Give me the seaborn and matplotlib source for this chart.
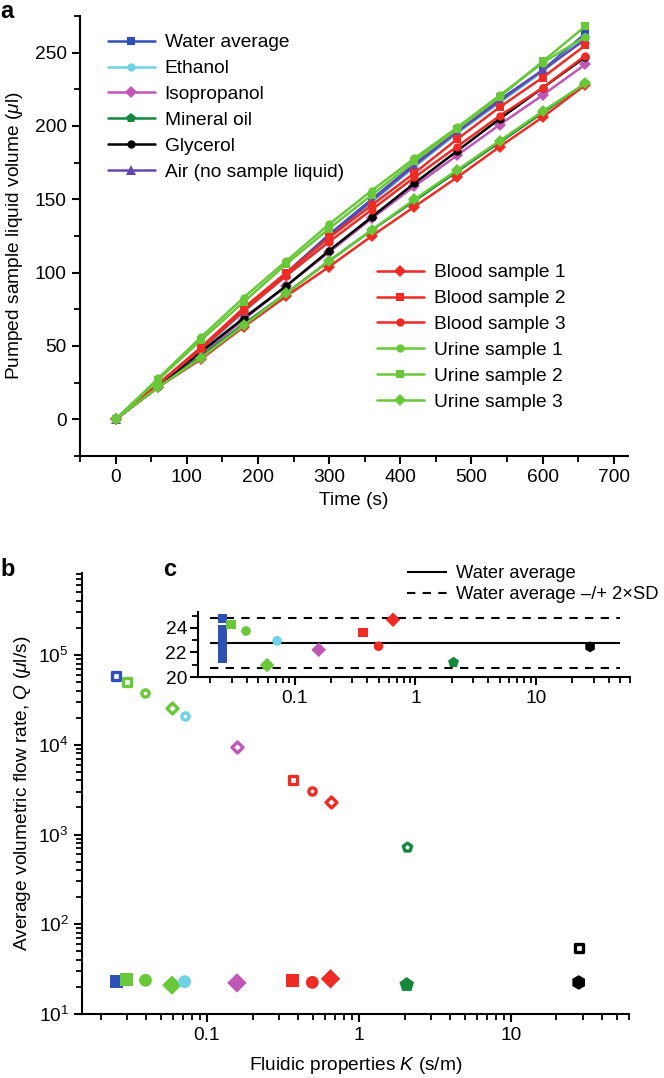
import numpy as np
import pandas as pd
import matplotlib
matplotlib.use("Agg")
import matplotlib.pyplot as plt
import seaborn as sns
from matplotlib.ticker import FixedLocator, NullFormatter, LogLocator

# ---------------- data: panel a ----------------
time_s = [0, 60, 120, 180, 240, 300, 360, 420, 480, 540, 600, 660]
water_avg = [0, 24, 49, 75, 100, 126, 150, 174, 196, 218, 238, 263]
ethanol = [0, 23, 47, 73, 98, 123, 148, 172, 195, 216, 237, 261]
isopropanol = [0, 22, 44, 68, 91, 114, 137, 159, 180, 201, 221, 242]
mineral_oil = [0, 22, 43, 65, 86, 108, 129, 149, 169, 189, 209, 229]
glycerol = [0, 23, 46, 69, 91, 115, 138, 161, 183, 205, 226, 247]
air = [0, 24, 48, 74, 99, 125, 149, 173, 196, 217, 238, 259]
blood1 = [0, 22, 41, 63, 84, 104, 125, 145, 165, 186, 206, 228]
blood2 = [0, 24, 49, 76, 100, 124, 146, 168, 191, 213, 233, 255]
blood3 = [0, 24, 48, 74, 98, 121, 143, 165, 186, 207, 226, 248]
urine1 = [0, 28, 56, 83, 108, 133, 156, 178, 199, 221, 243, 261]
urine2 = [0, 27, 54, 80, 106, 130, 153, 176, 198, 220, 244, 268]
urine3 = [0, 22, 42, 64, 86, 108, 129, 150, 170, 190, 210, 229]

series_names = ["Water average", "Ethanol", "Isopropanol", "Mineral oil", "Glycerol",
                "Air (no sample liquid)", "Blood sample 1", "Blood sample 2", "Blood sample 3",
                "Urine sample 1", "Urine sample 2", "Urine sample 3"]
series_vals = [water_avg, ethanol, isopropanol, mineral_oil, glycerol, air,
               blood1, blood2, blood3, urine1, urine2, urine3]

C_WATER = "#2f50b4"
C_ETH = "#6fd3e6"
C_ISO = "#c056b6"
C_OIL = "#14883c"
C_GLY = "#000000"
C_AIR = "#6448b0"
C_BLOOD = "#ee2b24"
C_URINE = "#68c83a"
series_colors = [C_WATER, C_ETH, C_ISO, C_OIL, C_GLY, C_AIR,
                 C_BLOOD, C_BLOOD, C_BLOOD, C_URINE, C_URINE, C_URINE]
series_markers = ["s", "o", "D", "p", "o", "^", "D", "s", "o", "o", "s", "D"]

# ---------------- data: panels b & c ----------------
liquids = ["Water", "Urine 2", "Urine 1", "Urine 3", "Ethanol", "Isopropanol",
           "Blood 2", "Blood 3", "Blood 1", "Mineral oil", "Glycerol"]
K_values = [0.0254, 0.0297, 0.0395, 0.059, 0.0715, 0.158, 0.368, 0.495, 0.652, 2.07, 28.0]
Q_open = [5.9e4, 5.05e4, 3.8e4, 2.55e4, 2.1e4, 9.5e3, 4.0e3, 3.04e3, 2.29e3, 722, 53.7]
Q_filled = [22.8, 24.27, 23.75, 20.97, 22.95, 22.22, 23.64, 22.51, 24.67, 21.19, 22.46]
liq_colors = [C_WATER, C_URINE, C_URINE, C_URINE, C_ETH, C_ISO,
              C_BLOOD, C_BLOOD, C_BLOOD, C_OIL, C_GLY]
open_markers = ["s", "s", "o", "D", "o", "D", "s", "o", "D", "p", "s"]
filled_markers = ["s", "s", "o", "D", "o", "D", "s", "o", "D", "p", "h"]

water_trials = [24.8, 23.9, 23.3, 23.0, 22.7, 22.4, 22.1, 21.8, 21.5]
water_mean = 22.8
water_2sd = 2.04
ref_K_span = [0.02, 50]

# ---------------- style ----------------
sns.set_style("ticks")
plt.rcParams["font.family"] = ["Liberation Sans", "DejaVu Sans"]
plt.rcParams["mathtext.fontset"] = "custom"
plt.rcParams["mathtext.rm"] = "Liberation Sans"
plt.rcParams["mathtext.it"] = "Liberation Sans:italic"
FS = 13.8
plt.rcParams.update({
    "font.size": FS, "axes.labelsize": FS, "xtick.labelsize": FS, "ytick.labelsize": FS,
    "axes.linewidth": 1.5, "xtick.major.width": 1.5, "ytick.major.width": 1.5,
    "xtick.minor.width": 1.3, "ytick.minor.width": 1.3,
    "xtick.major.size": 6, "ytick.major.size": 6, "xtick.minor.size": 4, "ytick.minor.size": 4,
    "xtick.color": "black", "ytick.color": "black", "axes.edgecolor": "black",
    "text.color": "black", "axes.labelcolor": "black",
})

fig = plt.figure(figsize=(6.64, 10.78), dpi=100)
W, H = 664, 1078


def axes_px(left, top, right, bottom):
    return fig.add_axes([left / W, 1 - bottom / H, (right - left) / W, (bottom - top) / H])


# marker area scaling so that shapes look similarly sized
def msize(m, base):
    return base * {"p": 1.45, "h": 1.3, "D": 1.15, "^": 1.2}.get(m, 1.0)


# ---------------- panel a ----------------
ax_a = axes_px(80, 16, 628, 456)
for name, vals, col, mk in zip(series_names, series_vals, series_colors, series_markers):
    ms = 6.0 * (1.15 if mk in ("p", "^") else 1.0)
    sns.lineplot(x=time_s, y=vals, ax=ax_a, color=col, marker=mk, markersize=ms,
                 markeredgewidth=0, linewidth=1.8, label=name, legend=False)
ax_a.set_xlim(-50, 720)
ax_a.set_ylim(-25, 275)
ax_a.set_xticks([0, 100, 200, 300, 400, 500, 600, 700])
ax_a.xaxis.set_minor_locator(FixedLocator(np.arange(-50, 721, 100)))
ax_a.set_yticks([0, 50, 100, 150, 200, 250])
ax_a.yaxis.set_minor_locator(FixedLocator(np.arange(-25, 276, 50)))
ax_a.set_xlabel("Time (s)", labelpad=4)
ax_a.set_ylabel(r"Pumped sample liquid volume ($\mu$l)", labelpad=7)
sns.despine(ax=ax_a)

handles = ax_a.get_lines()
leg_kw = dict(frameon=False, handlelength=2.45, handletextpad=0.5, labelspacing=0.44,
              borderpad=0, borderaxespad=0, fontsize=FS, loc="upper left")
leg1 = ax_a.legend(handles[:6], series_names[:6],
                   bbox_to_anchor=((108 - 80) / 548, (456 - 34) / 440), **leg_kw)
ax_a.add_artist(leg1)
ax_a.legend(handles[6:], series_names[6:],
            bbox_to_anchor=((377 - 80) / 548, (456 - 264) / 440), **leg_kw)

# ---------------- panel b ----------------
ax_b = axes_px(82, 573, 629, 1014)
for K, qo, qf, col, mo, mf in zip(K_values, Q_open, Q_filled, liq_colors, open_markers, filled_markers):
    sns.scatterplot(x=[K], y=[qo], ax=ax_b, marker=mo, s=msize(mo, 27), facecolor="white",
                    edgecolor=col, linewidth=2.4, legend=False, zorder=3)
    sns.scatterplot(x=[K], y=[qf], ax=ax_b, marker=mf, s=msize(mf, 85), color=col,
                    edgecolor="none", linewidth=0, legend=False, zorder=3)
ax_b.set_xscale("log")
ax_b.set_yscale("log")
ax_b.set_xlim(0.0151, 60)
ax_b.set_ylim(10, 8.2e5)
ax_b.set_xticks([0.1, 1, 10], labels=["0.1", "1", "10"])
ax_b.xaxis.set_minor_locator(LogLocator(base=10, subs=np.arange(2, 10), numticks=20))
ax_b.xaxis.set_minor_formatter(NullFormatter())
ax_b.set_yticks([10, 1e2, 1e3, 1e4, 1e5])
ax_b.yaxis.set_minor_locator(LogLocator(base=10, subs=np.arange(2, 10), numticks=20))
ax_b.yaxis.set_minor_formatter(NullFormatter())
ax_b.set_xlabel(r"Fluidic properties $K$ (s/m)", labelpad=8)
ax_b.set_ylabel(r"Average volumetric flow rate, $Q$ ($\mu$l/s)", labelpad=4)
sns.despine(ax=ax_b)

# ---------------- panel c (inset) ----------------
ax_c = axes_px(198, 612, 630, 677)
ax_c.hlines([water_mean], ref_K_span[0], ref_K_span[1], color="black", linewidth=1.5,
            label="Water average")
ax_c.hlines([water_mean - water_2sd, water_mean + water_2sd], ref_K_span[0], ref_K_span[1],
            color="black", linewidth=1.5, linestyles=(0, (4, 3.5)),
            label="Water average \u2013/+ 2\u00d7SD")
sns.scatterplot(x=[K_values[0]] * len(water_trials), y=water_trials, ax=ax_c, marker="s",
                s=40, color=C_WATER, edgecolor="none", linewidth=0, legend=False, zorder=3)
for K, qf, col, mf in zip(K_values[1:], Q_filled[1:], liq_colors[1:], filled_markers[1:]):
    sns.scatterplot(x=[K], y=[qf], ax=ax_c, marker=mf, s=msize(mf, 48), color=col,
                    edgecolor="none", linewidth=0, legend=False, zorder=3)
ax_c.set_xscale("log")
ax_c.set_xlim(0.0158, 60)
ax_c.set_ylim(20, 25.3)
ax_c.set_xticks([0.1, 1, 10], labels=["0.1", "1", "10"])
ax_c.xaxis.set_minor_locator(LogLocator(base=10, subs=np.arange(2, 10), numticks=20))
ax_c.xaxis.set_minor_formatter(NullFormatter())
ax_c.set_yticks([20, 22, 24])
ax_c.yaxis.set_minor_locator(FixedLocator([21, 23, 25]))
ax_c.tick_params(axis="y", pad=2)
sns.despine(ax=ax_c)
h_c, l_c = ax_c.get_legend_handles_labels()
fig.legend(h_c, l_c, loc="upper left", bbox_to_anchor=(407 / W, 1 - 565 / H), frameon=False,
           handlelength=2.2, handletextpad=0.45, labelspacing=0.24, borderpad=0,
           borderaxespad=0, fontsize=13.2)

# ---------------- panel letters ----------------
fig.text(0 / W, 1 - 0 / H, "a", fontsize=17, fontweight="bold", va="top", ha="left")
fig.text(0 / W, 1 - 558 / H, "b", fontsize=17, fontweight="bold", va="top", ha="left")
fig.text(163 / W, 1 - 558 / H, "c", fontsize=17, fontweight="bold", va="top", ha="left")

fig.savefig("out.png", dpi=100)
